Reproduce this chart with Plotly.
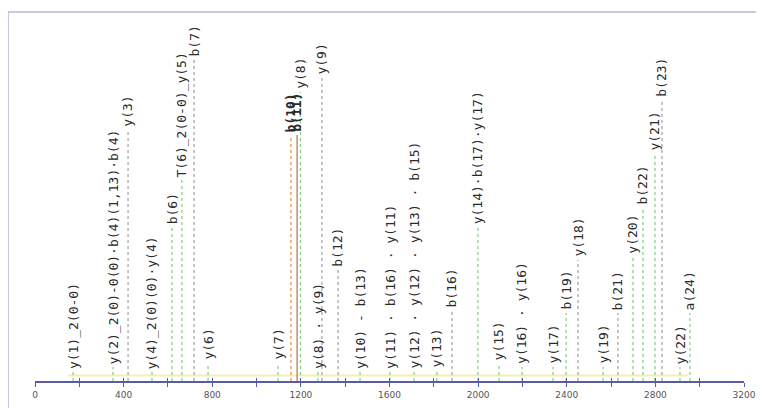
import plotly.graph_objects as go

# ---- data ----
mz = [172, 352, 420, 528, 618, 663, 718, 781, 1097, 1155, 1183, 1198,
      1277, 1295, 1368, 1467, 1602, 1711, 1814, 1882, 1999, 2094, 2198,
      2338, 2397, 2451, 2564, 2631, 2699, 2744, 2798, 2830, 2911, 2956]
intensity = [2.5, 3.9, 69.7, 2.5, 42.8, 55.8, 89.2, 5.0, 5.0, 68.3, 68.3, 80.3,
             2.5, 84.4, 30.8, 2.5, 2.5, 2.5, 3.0, 19.7, 42.8, 5.0, 3.9,
             3.9, 18.9, 33.6, 3.9, 18.9, 34.4, 48.3, 63.3, 78.0, 3.9, 18.9]
labels = ["y(1)_2(0-0)", "y(2)_2(0)-0(0)·b(4)(1,13)·b(4)", "y(3)",
          "y(4)_2(0)(0)·y(4)", "b(6)", "T(6)_2(0-0)_y(5)", "b(7)", "y(6)",
          "y(7)", "b(10)", "b(11)", "y(8)", "y(8) · y(9)", "y(9)", "b(12)",
          "y(10) - b(13)", "y(11) · b(16) · y(11)", "y(12) · y(12) · y(13) · b(15)",
          "y(13)", "b(16)", "y(14)·b(17)·y(17)", "y(15)", "y(16) · y(16)",
          "y(17)", "b(19)", "y(18)", "y(19)", "b(21)", "y(20)", "b(22)",
          "y(21)", "b(23)", "y(22)", "a(24)"]
grey_peaks = ["y(3)", "b(7)", "y(9)", "b(12)", "b(16)", "b(23)", "y(18)", "b(21)"]
orange_peaks = ["b(10)"]
brown_peaks = ["b(11)"]
baseline_mz = [150, 2950]
baseline_int = [1.5, 1.5]
tick_vals = [0, 200, 400, 600, 800, 1000, 1200, 1400, 1600, 1800, 2000,
             2200, 2400, 2600, 2800, 3000, 3200]
tick_text = ["0", "", "400", "", "800", "", "1200", "", "1600", "", "2000",
             "", "2400", "", "2800", "", "3200"]

fig = go.Figure()

fig.add_trace(go.Scatter(x=baseline_mz, y=baseline_int, mode="lines",
                         line=dict(color="#f2f0b0", width=2), hoverinfo="skip"))

groups = {"green": ([], []), "grey": ([], []), "orange": ([], []), "brown": ([], [])}
for m, h, lab in zip(mz, intensity, labels):
    if lab in grey_peaks:
        g = "grey"
    elif lab in orange_peaks:
        g = "orange"
    elif lab in brown_peaks:
        g = "brown"
    else:
        g = "green"
    groups[g][0].extend([m, m, None])
    groups[g][1].extend([0, h, None])

styles = {"green": ("#86c986", "dot", 1.2), "grey": ("#a0a0a0", "dot", 1.2),
          "orange": ("#e8a060", "dot", 1.4), "brown": ("#b98a6a", "solid", 1.4)}
for g, (xs, ys) in groups.items():
    c, d, w = styles[g]
    fig.add_trace(go.Scatter(x=xs, y=ys, mode="lines",
                             line=dict(color=c, dash=d, width=w), hoverinfo="skip"))

# invisible trace on the overlay axis so its inside ticks are drawn
fig.add_trace(go.Scatter(x=[0], y=[0], xaxis="x2", mode="markers",
                         marker=dict(opacity=0), hoverinfo="skip"))

for m, h, lab in zip(mz, intensity, labels):
    bold = lab in orange_peaks or lab in brown_peaks
    fig.add_annotation(x=m, y=h, text=("<b>%s</b>" % lab) if bold else lab,
                       textangle=-90, showarrow=False, xanchor="center",
                       yanchor="bottom", yshift=1,
                       font=dict(family="DejaVu Sans Mono", size=13,
                                 color="#2a2a2a"))

fig.add_shape(type="rect", xref="paper", yref="paper",
              x0=-0.038, x1=1.018, y0=-0.09, y1=1.025,
              line=dict(color="#b8bcd8", width=1.5))

fig.update_layout(
    width=764, height=408,
    margin=dict(l=27, r=28, t=13, b=35),
    paper_bgcolor="white", plot_bgcolor="white",
    showlegend=False,
    xaxis=dict(range=[0, 3200], tickvals=tick_vals, ticktext=tick_text,
               showgrid=False, zeroline=False, showline=True,
               linecolor="#5a5aa8", linewidth=1.5, ticks="outside",
               ticklen=4, tickcolor="#5a5aa8",
               tickfont=dict(family="DejaVu Sans", size=9, color="#555555")),
    xaxis2=dict(range=[0, 3200], overlaying="x", anchor="y", side="bottom",
                tickvals=tick_vals, showticklabels=False, showgrid=False,
                zeroline=False, showline=False, ticks="inside", ticklen=3,
                tickcolor="#5a5aa8"),
    yaxis=dict(range=[0, 100], visible=False, showgrid=False, zeroline=False),
)

fig.write_html("out.html")
